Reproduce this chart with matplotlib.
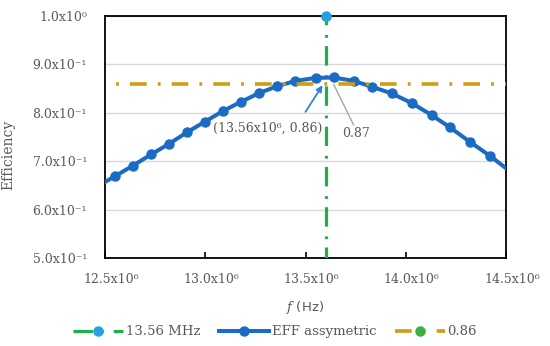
import matplotlib
matplotlib.use('Agg')
from matplotlib import pyplot as plt
import matplotlib.transforms as mtransforms

# efficiency curve (frequency in MHz)
freq_mhz = [12.45, 12.55, 12.64, 12.73, 12.82, 12.91, 13.00, 13.09, 13.18, 13.27,
            13.36, 13.45, 13.55, 13.64, 13.74, 13.83, 13.93, 14.03, 14.13,
            14.22, 14.32, 14.42, 14.52]
eff = [0.645, 0.669, 0.691, 0.714, 0.736, 0.760, 0.782, 0.804, 0.823, 0.841,
       0.855, 0.866, 0.872, 0.873, 0.866, 0.854, 0.840, 0.820, 0.795,
       0.770, 0.740, 0.711, 0.679]

# resonance marker line and efficiency threshold
res_x_mhz = [13.6, 13.6]
res_y = [0.0, 1.0]
thr_x_mhz = [12.0, 15.0]
thr_y = [0.86, 0.86]

yticks = [0.5, 0.6, 0.7, 0.8, 0.9, 1.0]
ytick_labels = ['5.0x10⁻¹', '6.0x10⁻¹', '7.0x10⁻¹', '8.0x10⁻¹', '9.0x10⁻¹', '1.0x10⁰']
xticks_mhz = [12.5, 13.0, 13.5, 14.0, 14.5]
xtick_labels = ['12.5x10⁶', '13.0x10⁶', '13.5x10⁶', '14.0x10⁶', '14.5x10⁶']

gray = '#595959'
blue = '#1b6bc4'
green = '#1fb04b'
orange = '#d29c12'
light_blue = '#2a9fe0'

plt.rcParams['lines.scale_dashes'] = False
plt.rcParams['mathtext.fontset'] = 'dejavuserif'
font = {'family': 'DejaVu Serif', 'size': 9}
matplotlib.rc('font', **font)

fig = plt.figure(figsize=(5.5, 3.46), dpi=100)
ax = fig.add_axes([105/550, 1-258/346, 401/550, 242/346])

res_x = [v*1e6 for v in res_x_mhz]
ax.plot(res_x, res_y, color=green, lw=2.3,
        linestyle=(0, (14, 6, 2, 7)), marker='o', ms=6.5,
        markerfacecolor=light_blue, markeredgecolor=light_blue,
        label='13.56 MHz', zorder=3)
# top marker sits on the frame, draw it unclipped
ax.plot(res_x, res_y, linestyle='none', marker='o', ms=6.5, markevery=[1],
        markerfacecolor=light_blue, markeredgecolor=light_blue,
        zorder=7, clip_on=False)
ax.plot([v*1e6 for v in freq_mhz], eff, color=blue, lw=2.9, marker='o', ms=6.5,
        markevery=list(range(1, len(freq_mhz)-1)), label='EFF assymetric', zorder=4)
ax.plot([v*1e6 for v in thr_x_mhz], thr_y, color=orange, lw=2.6,
        linestyle=(0, (12, 8, 2, 8)), marker='o', ms=6.5,
        markerfacecolor='#3cb044', markeredgecolor='#3cb044',
        label='0.86', zorder=5)

ax.set_xlim(12.5e6, 14.5e6)
ax.set_ylim(0.5, 1.0)
ax.set_yticks(yticks)
ax.set_yticklabels(ytick_labels)
ax.set_xticks([v*1e6 for v in xticks_mhz])
ax.set_xticklabels(xtick_labels)
ax.tick_params(axis='y', length=0, pad=13, colors=gray)
ax.tick_params(axis='x', direction='in', length=4, width=1.2, color='black',
               pad=11, labelcolor=gray)
for lbl in ax.get_xticklabels():
    lbl.set_transform(lbl.get_transform() +
                      mtransforms.ScaledTranslation(6/100, 0, fig.dpi_scale_trans))
ax.grid(axis='y', color='#d9d9d9', lw=1)
ax.set_axisbelow(True)
for s in ax.spines.values():
    s.set_linewidth(1.3)
    s.set_color('black')

ax.set_ylabel('Efficiency', color=gray, fontsize=10)
ax.yaxis.set_label_coords(-0.224, 0.426)
ax.set_xlabel('$f$ (Hz)', color=gray, family='DejaVu Sans', fontsize=9.5)
ax.xaxis.set_label_coords(0.5, -0.17)

# annotations
ax.annotate('', xy=(13.585e6, 0.857), xytext=(13.5e6, 0.802),
            arrowprops=dict(arrowstyle='-|>', color='#2a86d6', lw=1.3,
                            mutation_scale=9, shrinkA=0, shrinkB=0), zorder=6)
ax.text(13.31e6, 0.769, '(13.56x10⁶, 0.86)', color=gray, ha='center', va='center')
ax.annotate('', xy=(13.64e6, 0.859), xytext=(13.74e6, 0.775),
            arrowprops=dict(arrowstyle='-', color='#a6a6a6', lw=1,
                            shrinkA=0, shrinkB=0), zorder=6)
ax.text(13.7525e6, 0.758, '0.87', color=gray, ha='center', va='center')

leg = fig.legend(loc='center', bbox_to_anchor=(0.5, 0.041), ncol=3, frameon=False,
                 handlelength=3.8, handletextpad=0.2, columnspacing=1.4,
                 fontsize=9.5, labelcolor=gray)

plt.savefig('out.png', dpi=100)
